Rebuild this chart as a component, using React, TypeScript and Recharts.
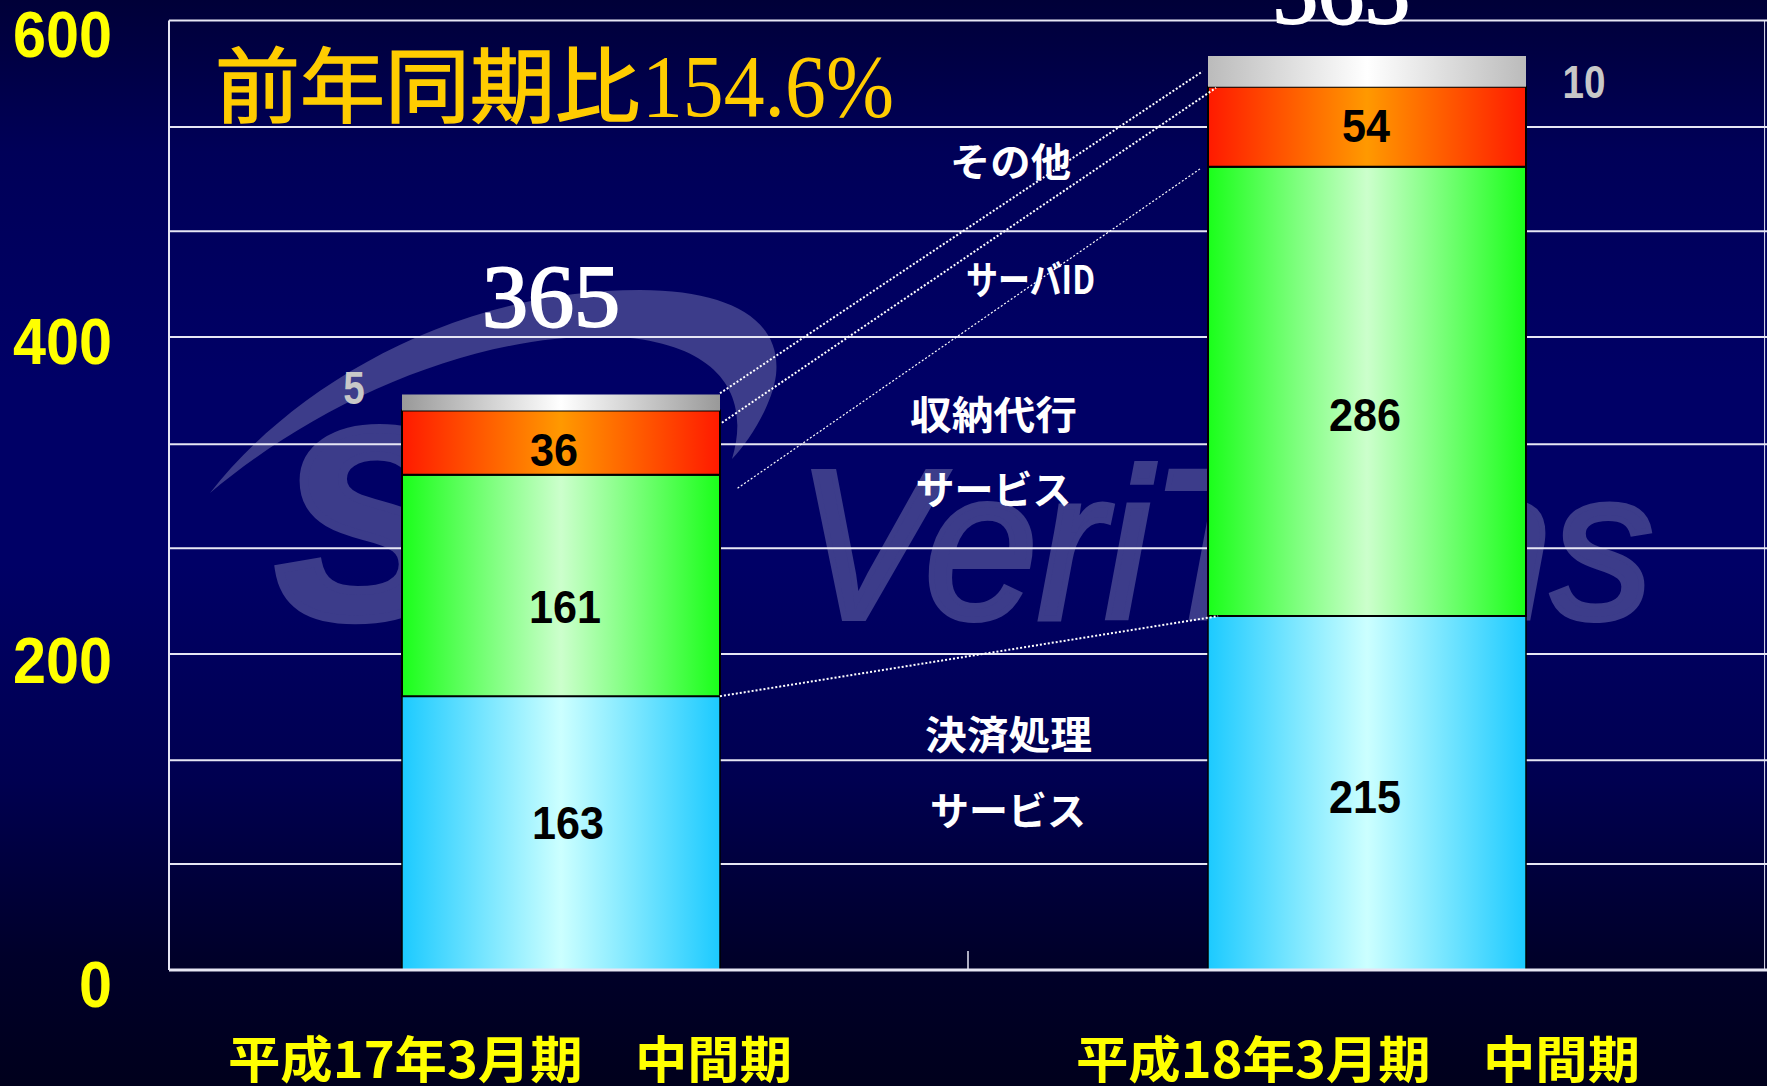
import React from "react";
import { BarChart, Bar, XAxis, YAxis, CartesianGrid, LabelList, ReferenceLine, Cell } from "recharts";

// Category labels
const periods = ["平成17年3月期　中間期", "平成18年3月期　中間期"];

// Printed values (what the labels in the picture say)
const paymentLabels = [163, 215];
const serverIdLabels = [161, 286];
const agencyLabels = [36, 54];
const otherLabels = [5, 10];
const totalLabels = [365, 565];

// Heights as actually drawn against the axis: the reference's bars do not follow its printed numbers
const paymentDrawn = [173, 223.6];
const serverIdDrawn = [140, 284];
const agencyDrawn = [40.5, 50.5];
const otherDrawn = [10.2, 19.4];

const gridValues = [0, 67, 132.6, 199.6, 266.5, 332.2, 400, 466.7, 532.6, 600];
const axisTicks = [0, 200, 400, 600];

const rows = periods.map((period, i) => ({
  period,
  payment: paymentDrawn[i],
  serverId: serverIdDrawn[i],
  agency: agencyDrawn[i],
  other: otherDrawn[i],
  paymentLabel: paymentLabels[i],
  serverIdLabel: serverIdLabels[i],
  agencyLabel: agencyLabels[i],
  otherLabel: otherLabels[i],
  totalLabel: totalLabels[i],
}));

// Connector lines: x as a fraction of the plot width, y in axis units
const connectors = [
  { x1: 0.3448, y1: 364.4, x2: 0.6468, y2: 567.8, w: 2 },
  { x1: 0.346, y1: 345.8, x2: 0.6552, y2: 557.4, w: 2 },
  { x1: 0.3558, y1: 304.4, x2: 0.6452, y2: 506.2, w: 1.2 },
  { x1: 0.3448, y1: 173, x2: 0.6565, y2: 223.6, w: 2 },
];

const W = 1767;
const H = 1086;
const SANS = "'Liberation Sans', Arial, sans-serif";
const SERIF = "'Liberation Serif', serif";
const CJK = "'Noto Sans CJK JP', sans-serif";

const yTickDy: Record<number, number> = { 600: 13.6, 400: 4, 200: 7, 0: 13.5 };
const YTick = (p: any) => {
  const v = p.payload.value;
  const s = String(v);
  return (
    <text x={112} y={p.y + yTickDy[v] + 23} textAnchor="end" fill="#ffff00" fontFamily={SANS} fontWeight="bold" fontSize={64}
      textLength={s.length * 33} lengthAdjust="spacingAndGlyphs">{s}</text>
  );
};

const xTickDx = [-51, -9];
const XTick = (p: any) => (
  <text x={p.x + xTickDx[p.index]} y={1078} textAnchor="middle" fill="#ffff00" fontFamily={CJK} fontWeight="bold" fontSize={50}
    textLength={564} lengthAdjust="spacingAndGlyphs">{p.payload.value}</text>
);

const makeLabel = (
  offs: { dx: number; dy: number }[],
  style: { fill: string; size: number; digit: number; family: string; weight: string; stroke?: number }
) => (p: any) => {
  const { x, y, width, height, value, index } = p;
  const s = String(value);
  const cx = x + width / 2 + offs[index].dx;
  const cy = y + height / 2 + offs[index].dy;
  return (
    <text x={cx} y={cy + style.size * 0.35} textAnchor="middle" fill={style.fill} fontFamily={style.family} fontWeight={style.weight}
      stroke={style.stroke ? style.fill : undefined} strokeWidth={style.stroke}
      fontSize={style.size} textLength={s.length * style.digit} lengthAdjust="spacingAndGlyphs">{s}</text>
  );
};

const black = { fill: "#000", size: 47, digit: 24, family: SANS, weight: "bold" };
const PaymentLabel = makeLabel([{ dx: 7, dy: -11 }, { dx: -2, dy: 3 }], black);
const ServerLabel = makeLabel([{ dx: 4, dy: 21 }, { dx: -2, dy: 23 }], black);
const AgencyLabel = makeLabel([{ dx: -7, dy: 7 }, { dx: -1, dy: -1 }], black);
const OtherLabel = makeLabel([{ dx: -207, dy: -15 }, { dx: 217, dy: 11 }], { fill: "#c8c8c8", size: 46, digit: 21.5, family: SANS, weight: "bold" });
const TotalLabel = makeLabel([{ dx: -10, dy: -107 }, { dx: -26, dy: -79 }], { fill: "#fff", size: 88, digit: 46, family: SERIF, weight: "normal", stroke: 2 });

const Grad = ({ id, edge, mid }: { id: string; edge: string; mid: string }) => (
  <linearGradient id={id} x1="0" y1="0" x2="1" y2="0">
    <stop offset="0" stopColor={edge} />
    <stop offset="0.5" stopColor={mid} />
    <stop offset="1" stopColor={edge} />
  </linearGradient>
);

const Note = ({ x, w, y, text }: { x: number; w: number; y: number; text: string }) => (
  <text x={x} y={y + 15} fill="#fff" fontFamily={CJK} fontWeight="bold" fontSize={39} textLength={w} lengthAdjust="spacingAndGlyphs">{text}</text>
);

const wm = "#3c3c8a";

export default function App() {
  return (
    <div style={{ position: "fixed", left: 0, top: 0, width: W, height: H, overflow: "hidden",
      background: "linear-gradient(180deg,#000038 0%,#000058 14%,#000066 35%,#000066 52%,#000050 72%,#00002a 88%,#00001c 100%)" }}>
      <svg width={W} height={H} style={{ position: "absolute", left: 0, top: 0 }}>
        <path d="M210 493 C 290 390, 450 290, 640 290 C 730 290, 782 320, 776 375 C 772 405, 750 440, 732 459 C 750 400, 725 345, 620 337 C 480 330, 320 400, 210 493 Z" fill={wm} />
        <text x={276} y={617} fill={wm} stroke={wm} strokeWidth={9} fontFamily={SANS} fontWeight="bold" fontStyle="italic" fontSize={270}>S</text>
        <text x={797} y={618} fill={wm} stroke={wm} strokeWidth={6} fontFamily={SANS} fontStyle="italic" fontSize={212} textLength={856} lengthAdjust="spacingAndGlyphs">VeriTrans</text>
      </svg>
      <div style={{ position: "absolute", left: 0, top: 0 }}>
        <BarChart width={W} height={H} data={rows} margin={{ top: 20.4, right: 0, bottom: 0, left: 0 }} barSize={318}>
          <defs>
            <Grad id="gBlue" edge="#1ccaff" mid="#ccffff" />
            <Grad id="gGreen" edge="#1aff1a" mid="#ccffcc" />
            <Grad id="gRed" edge="#ff1a00" mid="#ff9900" />
            <Grad id="gGray1" edge="#999999" mid="#ffffff" />
            <Grad id="gGray2" edge="#bbbbbb" mid="#ffffff" />
          </defs>
          <CartesianGrid vertical={false} horizontalValues={gridValues} stroke="#e6e6f4" strokeWidth={2} />
          <XAxis dataKey="period" height={116} interval={0} padding={{ left: -11, right: -3 }} tickLine={false}
            axisLine={{ stroke: "#e6e6f4", strokeWidth: 3 }} tick={<XTick />} />
          <XAxis xAxisId="pos" type="number" domain={[0, 1]} hide />
          <YAxis width={169} domain={[0, 600]} ticks={axisTicks} interval={0} tickLine={false}
            axisLine={{ stroke: "#e6e6f4", strokeWidth: 2 }} tick={<YTick />} />
          <Bar dataKey="payment" stackId="a" fill="url(#gBlue)" stroke="#000" strokeWidth={1.5} isAnimationActive={false}>
            <LabelList dataKey="paymentLabel" content={<PaymentLabel />} />
          </Bar>
          <Bar dataKey="serverId" stackId="a" fill="url(#gGreen)" stroke="#000" strokeWidth={2} isAnimationActive={false}>
            <LabelList dataKey="serverIdLabel" content={<ServerLabel />} />
          </Bar>
          <Bar dataKey="agency" stackId="a" fill="url(#gRed)" stroke="#000" strokeWidth={2} isAnimationActive={false}>
            <LabelList dataKey="agencyLabel" content={<AgencyLabel />} />
          </Bar>
          <Bar dataKey="other" stackId="a" isAnimationActive={false}>
            <Cell fill="url(#gGray1)" />
            <Cell fill="url(#gGray2)" />
            <LabelList dataKey="otherLabel" content={<OtherLabel />} />
            <LabelList dataKey="totalLabel" content={<TotalLabel />} />
          </Bar>
          <ReferenceLine xAxisId="pos" segment={[{ x: 0.5, y: 0 }, { x: 0.5, y: 12 }]} stroke="#e6e6f4" strokeWidth={1.5} />
          <ReferenceLine xAxisId="pos" segment={[{ x: 0.9985, y: 0 }, { x: 0.9985, y: 600 }]} stroke="#e6e6f4" strokeWidth={1} />
          {connectors.map((c, i) => (
            <ReferenceLine key={i} xAxisId="pos" segment={[{ x: c.x1, y: c.y1 }, { x: c.x2, y: c.y2 }]}
              stroke="#fff" strokeWidth={c.w} strokeDasharray="2 2" />
          ))}
        </BarChart>
      </div>
      <svg width={W} height={H} style={{ position: "absolute", left: 0, top: 0 }}>
        <text x={215} y={116} fill="#ffcc00" stroke="#ffcc00" strokeWidth={1.5} fontFamily={CJK} fontSize={82} textLength={425} lengthAdjust="spacingAndGlyphs">前年同期比</text>
        <text x={642} y={116} fill="#ffcc00" fontFamily={SERIF} fontSize={88} textLength={252} lengthAdjust="spacingAndGlyphs">154.6%</text>
        <Note x={950} w={121} y={161} text="その他" />
        <Note x={966} w={129} y={279} text="サーバID" />
        <Note x={910} w={167} y={414} text="収納代行" />
        <Note x={915.5} w={156} y={489} text="サービス" />
        <Note x={925} w={167} y={734} text="決済処理" />
        <Note x={930} w={156} y={810} text="サービス" />
      </svg>
    </div>
  );
}
